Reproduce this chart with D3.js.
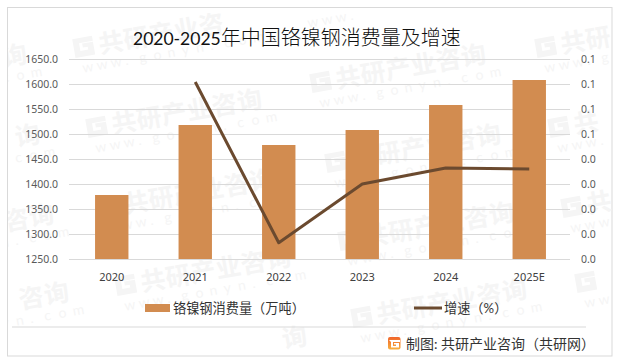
<!DOCTYPE html>
<html><head><meta charset="utf-8">
<script src="https://cdn.jsdelivr.net/npm/d3@7"></script>
<style>
html,body{margin:0;padding:0;background:#fff}
svg{display:block}
text{font-family:"Lato","Noto Sans CJK SC",sans-serif}
.num text{font-family:"Noto Sans","Noto Sans CJK SC",sans-serif}
</style></head><body>
<svg id="c" width="619" height="362"></svg>
<script>
const categories=["2020","2021","2022","2023","2024","2025E"];
const consumption=[1378,1518,1478,1508,1558,1608];
const growth=[null,0.0708,0.0065,0.03,0.0364,0.036];
const leftTicks=[1250,1300,1350,1400,1450,1500,1550,1600,1650];
const rightTicks=[0,0.01,0.02,0.03,0.04,0.05,0.06,0.07,0.08];
const wmAnchors=[[-147,90],[-134,170],[-120,250],[-105,328],
 [75,55],[88,135],[100,215],[117,293],[133,372],
 [300,10],[312,90],[327,170],[340,248],[353,325],
 [537,55],[550,135],[563,215],[577,290]];
const wmName=Array.from("共研产业咨询");
const wmSite=Array.from("www.gonyn.com");
const titleYears="2020-2025";
const titleRest="年中国铬镍钢消费量及增速";
const barName="铬镍钢消费量（万吨）";
const lineName="增速（%）";
const source="制图: 共研产业咨询（共研网）";

const svg=d3.select("#c");
const m={l:69,r:570,t:59,b:259};
const F={x0:8,x1:612,y0:8,y1:356};
const x=d3.scaleBand().domain(categories).range([m.l+1,m.r+1]).paddingInner(0.6).paddingOuter(0.3);
const yL=d3.scaleLinear().domain([1250,1650]).range([m.b,m.t]);
const yR=d3.scaleLinear().domain([0,0.08]).range([m.b,m.t]);
const WM="#f5f5f5";

svg.append("defs").append("clipPath").attr("id","fr").append("rect").attr("x",F.x0).attr("y",F.y0).attr("width",F.x1-F.x0).attr("height",F.y1-F.y0);
svg.append("rect").attr("x",7.5).attr("y",7.5).attr("width",604.5).attr("height",348.5).attr("fill","#fff").attr("stroke","#d9d9d9");

const wm=svg.append("g").attr("clip-path","url(#fr)");
const A=-10*Math.PI/180;
const keep=(ax,ay,px,py,s)=>{
 const gx=ax+px*Math.cos(A)-py*Math.sin(A), gy=ay+px*Math.sin(A)+py*Math.cos(A);
 return gx>=0 && gx+s<=619 && gy-s*1.2>=F.y0 && gy+s*0.3<=F.y1 && gx+s>F.x0 && gx<F.x1;
};
wmAnchors.forEach(([ax,ay])=>{
 const g=wm.append("g").attr("transform",`translate(${ax},${ay}) rotate(-10)`);
 if(keep(ax,ay,0,0,18)) g.append("path").attr("d","M0,-16H20V-11H6V-3H14V-6H9V-10H20V3H0Z").attr("fill",WM);
 wmName.forEach((ch,i)=>{
  const px=25+i*25.5;
  if(keep(ax,ay,px,3,22)) g.append("text").attr("x",px).attr("y",3).attr("font-size",25).attr("font-weight",700).attr("fill",WM).text(ch);
 });
 wmSite.forEach((ch,i)=>{
  const px=5+i*14.4;
  if(keep(ax,ay,px,19,10)) g.append("text").attr("x",px).attr("y",19).attr("font-size",14).attr("fill",WM).text(ch);
 });
});

const gl=svg.append("g").attr("class","num").attr("transform",`translate(${m.l},0)`);
gl.call(d3.axisLeft(yL).tickValues(leftTicks).tickSize(-(m.r-m.l)).tickFormat(d3.format(".1f")));
gl.select(".domain").remove();
gl.selectAll("line").attr("stroke","#d9d9d9");
gl.selectAll("text").attr("x",-11).attr("font-size",10.5).attr("fill","#595959");

const gr=svg.append("g").attr("class","num").attr("transform",`translate(${m.r},0)`);
gr.call(d3.axisRight(yR).tickValues(rightTicks).tickSize(0).tickFormat(d3.format(".1f")));
gr.select(".domain").remove();
gr.selectAll("text").attr("x",11).attr("font-size",10.5).attr("fill","#595959");

svg.append("g").selectAll("rect").data(categories).join("rect")
 .attr("x",d=>x(d)).attr("width",x.bandwidth())
 .attr("y",(d,i)=>yL(consumption[i])).attr("height",(d,i)=>yL(1250)-yL(consumption[i]))
 .attr("fill","#d28c50");

const ln=d3.line().defined(d=>d.v!=null).x(d=>x(d.c)+x.bandwidth()/2).y(d=>yR(d.v));
svg.append("path").datum(categories.map((c,i)=>({c,v:growth[i]}))).attr("d",ln)
 .attr("fill","none").attr("stroke","#6b4a2f").attr("stroke-width",3).attr("stroke-linejoin","round");

const gb=svg.append("g").attr("class","num").attr("transform",`translate(0,${m.b})`);
gb.call(d3.axisBottom(x).tickSize(0));
gb.select(".domain").remove();
gb.selectAll("text").attr("y",14).attr("dy",".71em").attr("font-size",11).attr("fill","#404040");

const tt=svg.append("text").attr("x",133).attr("y",45).attr("fill","#111");
tt.append("tspan").attr("font-size",17.5).text(titleYears);
tt.append("tspan").attr("font-size",20).attr("font-weight",300).text(titleRest);

svg.append("rect").attr("x",145).attr("y",304).attr("width",25).attr("height",8).attr("fill","#d28c50");
svg.append("text").attr("x",173).attr("y",313).attr("font-size",13.2).attr("fill","#333").text(barName);
svg.append("line").attr("x1",414).attr("x2",442).attr("y1",308).attr("y2",308).attr("stroke","#6b4a2f").attr("stroke-width",3);
svg.append("text").attr("x",444).attr("y",313).attr("font-size",13.2).attr("fill","#333").text(lineName);

svg.append("line").attr("x1",12).attr("x2",586).attr("y1",327).attr("y2",327).attr("stroke","#d9d9d9");

const grad=svg.append("defs").append("linearGradient").attr("id","lg").attr("x1",0).attr("y1",0).attr("x2",0).attr("y2",1);
grad.append("stop").attr("offset",0).attr("stop-color","#f0642a");
grad.append("stop").attr("offset",1).attr("stop-color","#f8b040");
const logo=svg.append("g").attr("transform","translate(388,337)");
logo.append("rect").attr("width",12.5).attr("height",12.5).attr("rx",2).attr("fill","url(#lg)");
logo.append("path").attr("d","M1,3H12V5H5V9H8V7.5H6V6H11V10.5H3V5Z").attr("fill","#fff");
svg.append("text").attr("x",406).attr("y",349).attr("font-size",14).attr("fill","#333").text(source);
</script></body></html>
